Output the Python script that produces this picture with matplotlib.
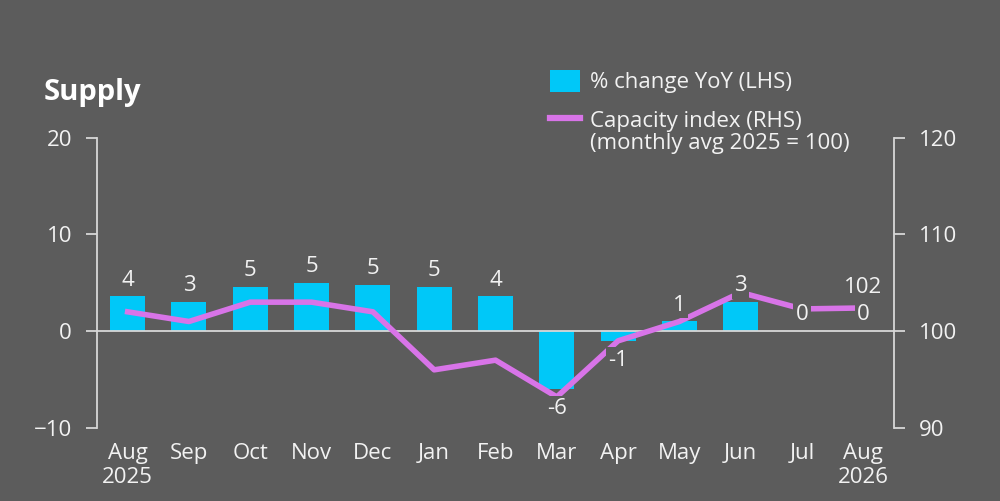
import matplotlib
matplotlib.use("Agg")
import matplotlib.pyplot as plt
from matplotlib.patches import Patch
from matplotlib.lines import Line2D

months = ["Aug\n2025", "Sep", "Oct", "Nov", "Dec", "Jan", "Feb", "Mar",
          "Apr", "May", "Jun", "Jul", "Aug\n2026"]
yoy_change = [3.6, 3.0, 4.6, 5.0, 4.75, 4.6, 3.6, -6.0, -1.0, 1.0, 3.0, 0.0, 0.0]
capacity_index = [102.0, 101.0, 103.0, 103.0, 102.0, 96.0, 97.0, 93.2,
                  99.0, 101.0, 104.0, 102.3, 102.4]

BG = "#5c5c5c"
FG = "#f2f2f2"
SPINE = "#d8d8d8"
BAR = "#00c8f8"
LINE = "#d874e8"
FS = 16

plt.rcParams["font.family"] = ["Open Sans", "DejaVu Sans"]

fig = plt.figure(figsize=(10, 5.01), dpi=100, facecolor=BG)
ax = fig.add_axes([0.097, 0.146, 0.797, 0.579])
ax.set_facecolor(BG)
ax2 = ax.twinx()

x = list(range(len(months)))
ax.bar(x, yoy_change, width=0.57, color=BAR, zorder=2)
ax.axhline(0, color=SPINE, lw=1.3, zorder=3)

ax.set_xlim(-0.5, 12.5)
ax.set_ylim(-10, 20)
ax.set_yticks([-10, 0, 10, 20])
ax2.set_ylim(90, 120)
ax2.set_yticks([90, 100, 110, 120])

ax2.plot(x, capacity_index, color=LINE, lw=4, zorder=2)

for a in (ax, ax2):
    for s in ("top", "bottom"):
        a.spines[s].set_visible(False)
ax.spines["right"].set_visible(False)
ax2.spines["left"].set_visible(False)
ax.spines["left"].set_color(SPINE)
ax2.spines["right"].set_color(SPINE)
ax.spines["left"].set_linewidth(1.3)
ax2.spines["right"].set_linewidth(1.3)

for a in (ax, ax2):
    a.tick_params(axis="y", colors=SPINE, labelcolor=FG, labelsize=FS, length=8,
                  width=1.3, pad=10)
ax.set_xticks(x)
ax.set_xticklabels(months, fontsize=FS, color=FG, linespacing=1.15)
ax.tick_params(axis="x", length=0, pad=11)

# bar labels sit on ax2 (above the line) with a background box that cuts the line
for xi, v in zip(x, yoy_change):
    if v < 0:
        y, va = v - 0.9, "top"
    else:
        y, va = v + 0.6, "bottom"
    ax2.text(xi, y, f"{round(v):d}", transform=ax.transData, ha="center", va=va,
             fontsize=FS, color=FG, zorder=5,
             bbox=dict(boxstyle="square,pad=0.1", fc=BG, ec="none"))

ax2.text(x[-1], capacity_index[-1] + 1.0, f"{capacity_index[-1]:.0f}",
         ha="center", va="bottom", fontsize=FS, color=FG, zorder=5)

fig.text(0.044, 0.80, "Supply", fontsize=21, fontweight="bold", color="white",
         va="baseline")

handles = [Patch(facecolor=BAR, edgecolor="none"),
           Line2D([0], [0], color=LINE, lw=4.5)]
labels = ["% change YoY (LHS)", "Capacity index (RHS)"]
fig.legend(handles, labels, loc="upper left", bbox_to_anchor=(0.541, 0.879),
           frameon=False, fontsize=FS, labelcolor=FG, handlelength=1.35,
           handleheight=1.2, handletextpad=0.45, labelspacing=0.68,
           borderpad=0.4, borderaxespad=0)
fig.text(0.590, 1 - 143 / 501, "(monthly avg 2025 = 100)", fontsize=FS,
         color=FG, va="center")

fig.savefig("out.png", dpi=100, facecolor=BG)
